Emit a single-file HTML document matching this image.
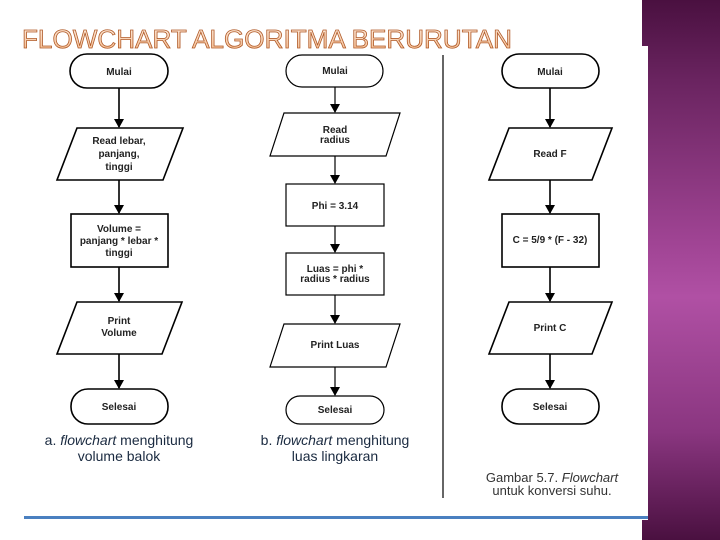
<!DOCTYPE html>
<html><head><meta charset="utf-8"><style>
html,body{margin:0;padding:0;}
body{width:720px;height:540px;overflow:hidden;background:#fff;position:relative;font-family:"Liberation Sans",sans-serif;}
.strip{position:absolute;left:642px;top:0;width:78px;height:540px;background:linear-gradient(180deg,#4a1040 0%,#6a2460 15%,#a04494 45%,#b050a4 55%,#8a3680 80%,#4a1040 100%);}
.img{position:absolute;left:24px;top:46px;width:624px;height:474px;background:#fff;}
.blue{position:absolute;left:24px;top:516px;width:624px;height:3px;background:#4a80c0;}
</style></head><body>
<div class="strip"></div>
<div class="img"></div>
<div class="blue"></div>
<svg width="720" height="540" style="position:absolute;left:0;top:0" font-family="Liberation Sans, sans-serif">
<defs>
<linearGradient id="tg" x1="0" y1="0" x2="0" y2="1"><stop offset="0" stop-color="#fff0e4"/><stop offset="1" stop-color="#f4b888"/></linearGradient>
<marker id="ah" markerWidth="10" markerHeight="10" refX="8" refY="5" orient="auto" markerUnits="userSpaceOnUse"><path d="M0,0 L9,5 L0,10 z" fill="#000"/></marker>
</defs>
<text x="22" y="48" font-size="26" textLength="490" lengthAdjust="spacingAndGlyphs" fill="url(#tg)" stroke="#b05a28" stroke-width="0.8">FLOWCHART ALGORITMA BERURUTAN</text>
<g stroke="#000" stroke-width="1.6" fill="#fff">
<rect x="70" y="54" width="98" height="34" rx="17"/>
<line x1="119" y1="88" x2="119" y2="127" marker-end="url(#ah)"/>
<polygon points="77,128 183,128 163,180 57,180"/>
<line x1="119" y1="180" x2="119" y2="213" marker-end="url(#ah)"/>
<rect x="71" y="214" width="97" height="53"/>
<line x1="119" y1="267" x2="119" y2="301" marker-end="url(#ah)"/>
<polygon points="77,302 182,302 162,354 57,354"/>
<line x1="119" y1="354" x2="119" y2="388" marker-end="url(#ah)"/>
<rect x="71" y="389" width="97" height="35" rx="17"/>
<rect x="286" y="55" width="97" height="32" rx="16" stroke-width="1.2"/>
<line x1="335" y1="87" x2="335" y2="112" stroke-width="1.2" marker-end="url(#ah)"/>
<polygon points="284,113 400,113 386,156 270,156" stroke-width="1.2"/>
<line x1="335" y1="156" x2="335" y2="183" stroke-width="1.2" marker-end="url(#ah)"/>
<rect x="286" y="184" width="98" height="42" stroke-width="1.2"/>
<line x1="335" y1="226" x2="335" y2="252" stroke-width="1.2" marker-end="url(#ah)"/>
<rect x="286" y="253" width="98" height="42" stroke-width="1.2"/>
<line x1="335" y1="295" x2="335" y2="323" stroke-width="1.2" marker-end="url(#ah)"/>
<polygon points="284,324 400,324 386,367 270,367" stroke-width="1.2"/>
<line x1="335" y1="367" x2="335" y2="395" stroke-width="1.2" marker-end="url(#ah)"/>
<rect x="286" y="396" width="98" height="28" rx="14" stroke-width="1.2"/>
<line x1="443" y1="55" x2="443" y2="498" stroke-width="1.2"/>
<rect x="502" y="54" width="97" height="34" rx="17"/>
<line x1="550" y1="88" x2="550" y2="127" marker-end="url(#ah)"/>
<polygon points="509,128 612,128 592,180 489,180"/>
<line x1="550" y1="180" x2="550" y2="213" marker-end="url(#ah)"/>
<rect x="502" y="214" width="97" height="53"/>
<line x1="550" y1="267" x2="550" y2="301" marker-end="url(#ah)"/>
<polygon points="509,302 612,302 592,354 489,354"/>
<line x1="550" y1="354" x2="550" y2="388" marker-end="url(#ah)"/>
<rect x="502" y="389" width="97" height="35" rx="17"/>
</g>
<g font-size="10" font-weight="bold" fill="#222" text-anchor="middle">
<text x="119" y="75">Mulai</text>
<text x="119" y="144">Read lebar,</text>
<text x="119" y="157">panjang,</text>
<text x="119" y="170">tinggi</text>
<text x="119" y="232">Volume =</text>
<text x="119" y="244">panjang * lebar *</text>
<text x="119" y="256">tinggi</text>
<text x="119" y="324">Print</text>
<text x="119" y="336">Volume</text>
<text x="119" y="410">Selesai</text>
<text x="335" y="74">Mulai</text>
<text x="335" y="133">Read</text>
<text x="335" y="143">radius</text>
<text x="335" y="209">Phi = 3.14</text>
<text x="335" y="272">Luas = phi *</text>
<text x="335" y="282">radius * radius</text>
<text x="335" y="348">Print Luas</text>
<text x="335" y="413">Selesai</text>
<text x="550" y="75">Mulai</text>
<text x="550" y="157">Read F</text>
<text x="550" y="243">C = 5/9 * (F - 32)</text>
<text x="550" y="331">Print C</text>
<text x="550" y="410">Selesai</text>
</g>
<g font-size="14" fill="#1a2a40" text-anchor="middle">
<text x="119" y="445">a. <tspan font-style="italic">flowchart</tspan> menghitung</text>
<text x="119" y="461">volume balok</text>
<text x="335" y="445">b. <tspan font-style="italic">flowchart</tspan> menghitung</text>
<text x="335" y="461">luas lingkaran</text>
</g>
<g font-size="13" fill="#333" text-anchor="middle">
<text x="552" y="482">Gambar 5.7.  <tspan font-style="italic">Flowchart</tspan></text>
<text x="552" y="495">untuk konversi suhu.</text>
</g>
</svg>
</body></html>
